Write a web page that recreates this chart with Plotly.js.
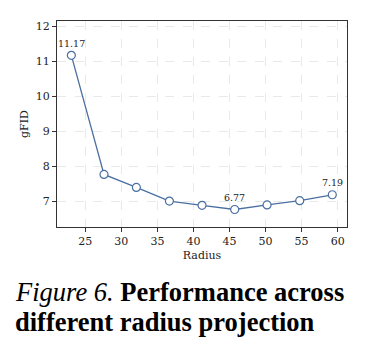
<!DOCTYPE html>
<html>
<head>
<meta charset="utf-8">
<script src="https://cdn.plot.ly/plotly-3.0.1.min.js"></script>
<style>
html,body{margin:0;padding:0;background:#fff;}
#chart{width:368px;height:358px;}
</style>
</head>
<body>
<div id="chart"></div>
<script>
const radius = [23.06, 27.59, 32.08, 36.66, 41.19, 45.72, 50.21, 54.74, 59.26];
const gfid = [11.17, 7.77, 7.40, 7.01, 6.89, 6.77, 6.90, 7.02, 7.19];
const labeledIdx = [0, 5, 8];
const xTicks = [25, 30, 35, 40, 45, 50, 55, 60];
const yTicks = [7, 8, 9, 10, 11, 12];
const captionLines = ['<i>Figure 6.</i> <b>Performance across</b>', '<b>different radius projection</b>'];

const lineColor = '#4a6fa0';
const serif = 'DejaVu Serif';
const times = 'Liberation Serif';

const trace = {
  x: radius, y: gfid, type: 'scatter', mode: 'lines+markers',
  line: {color: lineColor, width: 1.3},
  marker: {symbol: 'circle', size: 8, color: '#ffffff', line: {color: lineColor, width: 1.2}},
  cliponaxis: false, hoverinfo: 'skip'
};

const annotations = labeledIdx.map(i => ({
  x: radius[i], y: gfid[i], xref: 'x', yref: 'y',
  text: gfid[i].toFixed(2), showarrow: false, yshift: 12,
  font: {family: serif, size: 9.5, color: '#222'}
}));

const captionY = [-0.3158, -0.4614];
captionLines.forEach((t, k) => annotations.push({
  xref: 'paper', yref: 'paper', x: -0.1483, y: captionY[k], xanchor: 'left', yanchor: 'middle',
  align: 'left', showarrow: false, borderpad: 0,
  text: t,
  font: {family: times, size: 26.5, color: '#000'}
}));

const layout = {
  width: 368, height: 358,
  margin: {l: 57, r: 21, t: 21, b: 131},
  paper_bgcolor: '#fff', plot_bgcolor: '#fff',
  showlegend: false,
  font: {family: serif, size: 11, color: '#222'},
  xaxis: {
    range: [21.07, 61.3], tickvals: xTicks, ticks: 'outside', ticklen: 4, tickcolor: '#333',
    showline: true, linecolor: '#333', linewidth: 1, mirror: true,
    showgrid: true, gridcolor: '#e3e3e3', griddash: 'dash', gridwidth: 0.8, zeroline: false,
    tickfont: {family: serif, size: 11, color: '#222'},
    title: {text: 'Radius', font: {family: serif, size: 11, color: '#222'}, standoff: 4}
  },
  yaxis: {
    range: [6.27, 12.15], tickvals: yTicks, ticks: 'outside', ticklen: 4, tickcolor: '#333',
    showline: true, linecolor: '#333', linewidth: 1, mirror: true,
    showgrid: true, gridcolor: '#e3e3e3', griddash: 'dash', gridwidth: 0.8, zeroline: false,
    tickfont: {family: serif, size: 11, color: '#222'},
    title: {text: 'gFID', font: {family: serif, size: 11, color: '#222'}, standoff: 4}
  },
  annotations: annotations
};

Plotly.newPlot('chart', [trace], layout, {staticPlot: true, displayModeBar: false});
</script>
</body>
</html>
